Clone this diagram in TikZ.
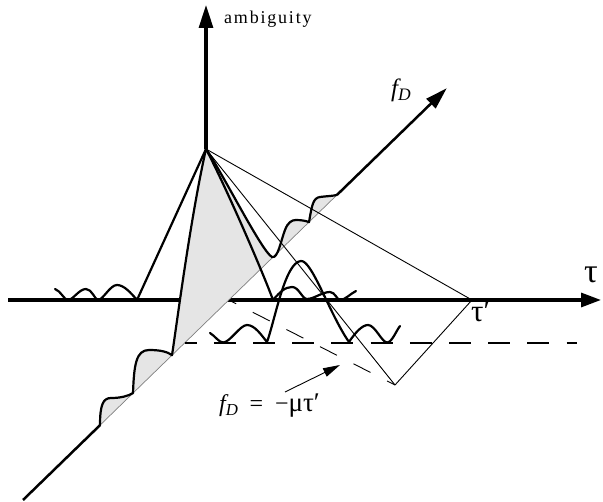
\documentclass[tikz,border=0pt]{standalone}
\usepackage{fontspec}
\setmainfont{Liberation Serif}
\newfontfamily\spacedfont[LetterSpace=10]{Liberation Serif}
\usetikzlibrary{arrows.meta}

% cuts through the ambiguity surface
\newcommand{\ridgecut}{(100,425.2)
  .. controls (100,405) and (103,398) .. (111,398)
  .. controls (121,398) and (128,396) .. (133,393.1)
  .. controls (134,365) and (136,350) .. (149,350)
  .. controls (161,350) and (168,352) .. (172,355.2)
  .. controls (176,330) and (190,220) .. (206,149)
  .. controls (222,172) and (262,252) .. (272,257)
  .. controls (278,259) and (281,240) .. (285,230)
  .. controls (288,222) and (292,220) .. (296,220)
  .. controls (302,220) and (306,221) .. (309,222.1)
  .. controls (312,205) and (313,198) .. (320,197)
  .. controls (328,196) and (333,196) .. (337,194.9)}

\begin{document}
\begin{tikzpicture}[
  x=1pt, y=-1pt,
  axis/.style={line width=3.2pt, draw=black},
  fdaxis/.style={line width=2.5pt, draw=black},
  cut/.style={line width=2.2pt, draw=black, line join=round, line cap=round},
  guide/.style={line width=0.9pt, draw=black},
  ridge/.style={fill=black!10, draw=none},
  lbl/.style={inner sep=0pt, font=\fontsize{24}{27}\selectfont}
]
\useasboundingbox (0,0) rectangle (603,502);
% Points
\coordinate (peak)     at (206,149);
\coordinate (top)      at (206,5);
\coordinate (taustart) at (8,300);
\coordinate (tauend)   at (601,300);
\coordinate (orig)     at (228.8,300);
\coordinate (tp)       at (472,300);
\coordinate (corner)   at (395,385);
\coordinate (fdlow)    at (23,500);
\coordinate (n0)       at (100,425.2);
\coordinate (n5)       at (337,194.9);
\coordinate (fdtip)    at (446.7,88.3);
\coordinate (dashstart) at (184.6,343);
\coordinate (dashend)  at (577,343);
\coordinate (arrtail)  at (285,392);
\coordinate (arrtip)   at (340,365);
% tau axis, partly hidden by the ridge
\draw[axis, -{Triangle[length=20pt,width=14pt]}] (taustart) -- (tauend);
% Ridge
\fill[ridge] \ridgecut -- cycle;
\draw[line width=0.7pt, black!50] (n0) -- (n5);
% Other axes
\draw[fdaxis] (fdlow) -- (n0);
\draw[fdaxis, -{Triangle[length=22pt,width=13pt]}] (n5) -- (fdtip);
\draw[axis, -{Triangle[length=23pt,width=14pt]}] (peak) -- (top);
% Guides
\draw[guide] (peak) -- (tp);
\draw[guide] (peak) -- (corner);
\draw[guide] (corner) -- (tp);
\draw[guide, dash pattern=on 19pt off 18.7pt, dash phase=10.7pt] (orig) -- (corner);
\draw[line width=2pt, dash pattern=on 22pt off 17.2pt, dash phase=10pt] (dashstart) -- (dashend);
% Cuts
\draw[cut] \ridgecut;
\draw[cut] (55,289) .. controls (61,291) and (64,300) .. (68,300)
  .. controls (73,300) and (79,289) .. (86,289)
  .. controls (92,289) and (95,300) .. (98,300)
  .. controls (103,300) and (110,285) .. (117,285)
  .. controls (124,285) and (131,293) .. (137,300) -- (peak)
  .. controls (225,185) and (262,270) .. (273,300)
  .. controls (280,292) and (285,287) .. (292,287)
  .. controls (299,287) and (302,299) .. (307,299)
  .. controls (314,299) and (322,292) .. (330,292)
  .. controls (335,292) and (337,300) .. (340,300)
  .. controls (345,300) and (350,294) .. (356,291);
\draw[cut] (210,333) .. controls (215,336) and (219,342.5) .. (223,342.5)
  .. controls (230,342.5) and (240,325) .. (247,325)
  .. controls (255,325) and (262,336) .. (267,342)
  .. controls (275,320) and (285,262) .. (301,261)
  .. controls (312,260) and (330,315) .. (349,342)
  .. controls (355,333) and (362,325) .. (368,325)
  .. controls (375,325) and (382,342.5) .. (387,342.5)
  .. controls (392,342.5) and (396,331) .. (400,326);
% Labels
\node[anchor=base west, inner sep=0pt, font=\spacedfont\fontsize{18}{21}\selectfont] (amb) at (224,23.3) {ambiguity};
\node[lbl, anchor=base west, font=\fontsize{25}{28}\selectfont] (fdlabel) at (391,97) {\itshape f\textsubscript{D}};
\node[lbl, anchor=base west, font=\fontsize{34}{37}\selectfont] (taulabel) at (584,283) {τ};
\node[lbl, anchor=base west, font=\fontsize{31}{34}\selectfont] (tplabel) at (471,322) {τ′};
\node[lbl, anchor=base west] (ridgelabel) at (219,411.5) {\itshape f\textsubscript{D}\upshape\hspace{11pt}=\hspace{12pt}−{\fontsize{27}{30}\selectfont μτ′}};
\draw[guide, -{Triangle[length=17pt,width=9pt]}] (arrtail) -- (arrtip);
\end{tikzpicture}
\end{document}
